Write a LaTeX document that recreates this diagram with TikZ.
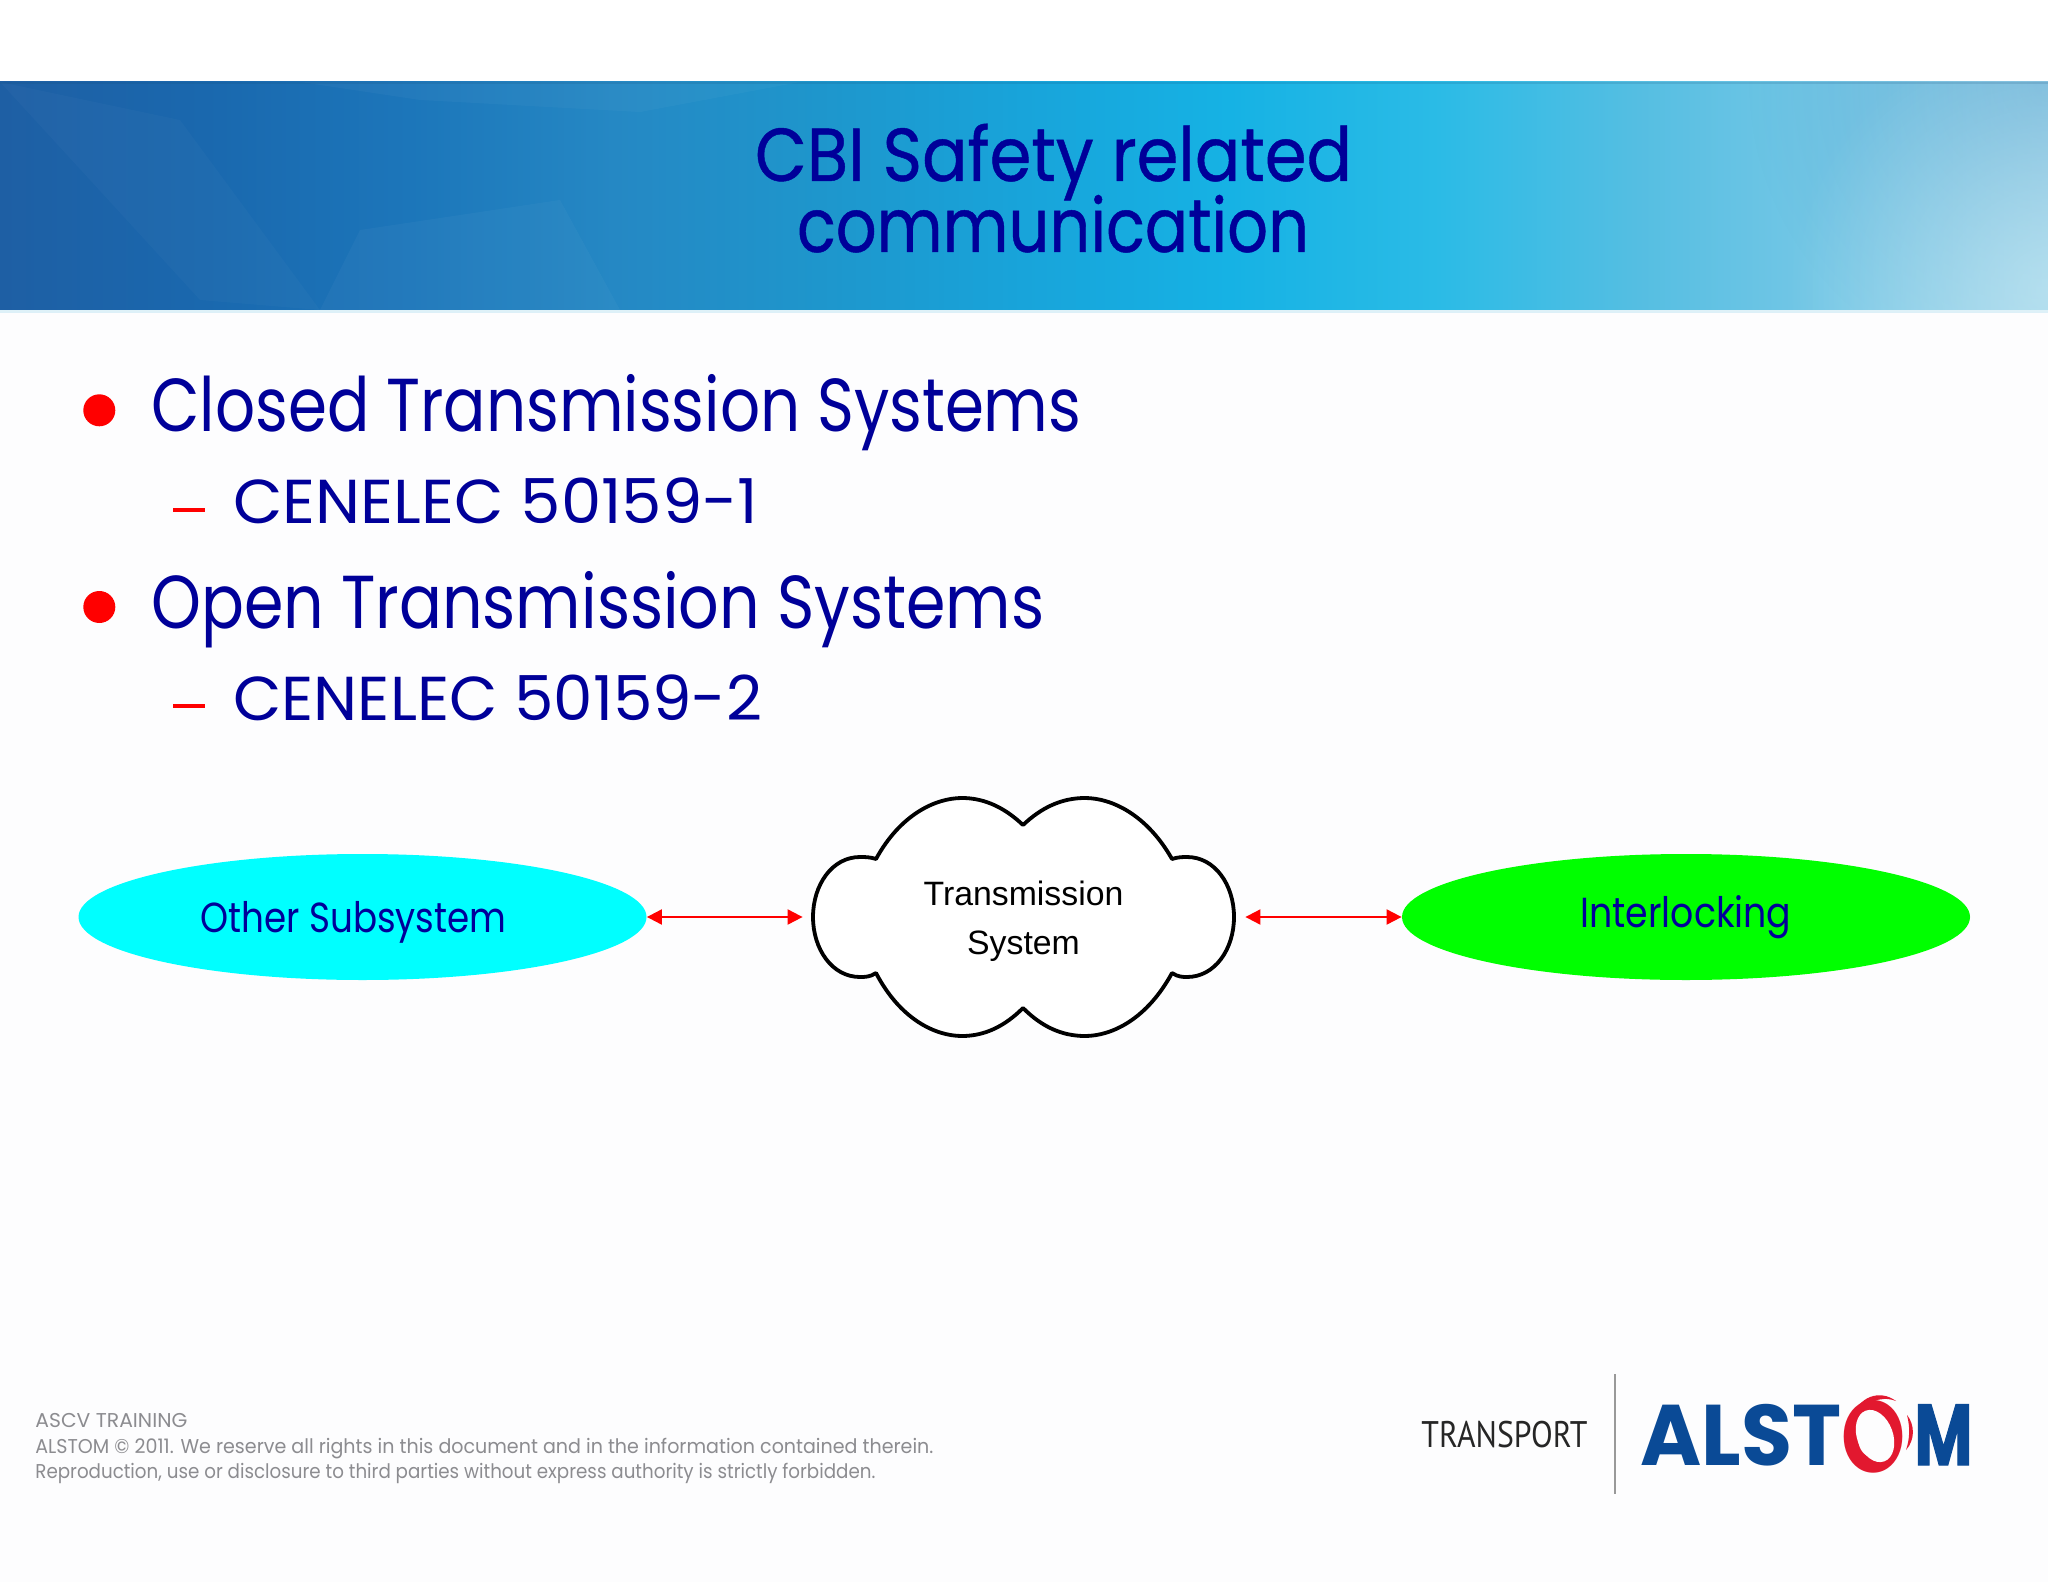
\documentclass[tikz,border=0pt]{standalone}
\usepackage{fontspec}
\usepackage{graphicx}
\usetikzlibrary{shapes.geometric,arrows.meta,fadings}
\setmainfont{Poppins}
\newfontfamily\titlefont[FakeBold=0.6]{Poppins}
\newfontfamily\arialfont{Liberation Sans}
\newfontfamily\transfont{PT Sans}
\newfontfamily\logofont[BoldFont=Poppins Bold]{Poppins}
\newfontfamily\logoheavy[FakeBold=1.6]{Poppins Bold}
\newcommand{\fitw}[2]{\resizebox{#1}{\height}{#2}}
\definecolor{navytext}{HTML}{000099}
\definecolor{greytext}{HTML}{8C8C90}
\definecolor{pagetint}{HTML}{FDFDFE}
\definecolor{logoblue}{HTML}{0A4A96}
\definecolor{logored}{HTML}{E2182F}
\definecolor{purecyan}{HTML}{00FFFF}
\definecolor{puregreen}{HTML}{00FF00}
\definecolor{bA}{HTML}{1E5FA4}
\definecolor{bB}{HTML}{1A68AE}
\definecolor{bC}{HTML}{1C76BA}
\definecolor{bD}{HTML}{2588C4}
\definecolor{bE}{HTML}{1E96CC}
\definecolor{bF}{HTML}{18A4DA}
\definecolor{bG}{HTML}{16B2E4}
\definecolor{bH}{HTML}{2ABBE6}
\definecolor{bI}{HTML}{55BEE2}
\definecolor{bJ}{HTML}{78C8E6}
\definecolor{bK}{HTML}{A4D8EC}
\definecolor{cornertone}{HTML}{3E90C4}
\definecolor{lowglow}{HTML}{C8EAF4}
\pgfdeclarehorizontalshading{headerband}{100bp}{color(0bp)=(bA);color(25bp)=(bA);color(30bp)=(bB);color(35bp)=(bC);color(40bp)=(bD);color(45bp)=(bE);color(50bp)=(bF);color(55bp)=(bG);color(60bp)=(bH);color(65bp)=(bI);color(70bp)=(bJ);color(75bp)=(bK);color(100bp)=(bK)}
\tikzfading[name=cornerglow, inner color=transparent!0, outer color=transparent!100]
\tikzset{
  bodytext/.style={inner sep=0pt,anchor=base west,text=navytext,font=\fontsize{37.5}{40}\selectfont},
  subtext/.style={inner sep=0pt,anchor=base west,text=navytext,font=\fontsize{31}{34}\selectfont},
  titletext/.style={inner sep=0pt,anchor=base,text=navytext,font=\titlefont\fontsize{37.5}{40}\selectfont},
  foottext/.style={inner sep=0pt,anchor=base west,text=greytext,font=\fontsize{10}{12}\selectfont},
  blobtext/.style={inner sep=0pt,anchor=base,text=navytext,font=\fontsize{21}{24}\selectfont},
  subsystem/.style={ellipse,inner sep=0pt,minimum width=284pt,minimum height=63pt,draw=none},
  bulletdot/.style={fill=red},
  dashmark/.style={draw=red,line width=2pt},
  link/.style={draw=red,line width=1pt,{Triangle[length=7.5pt,width=7.5pt]}-{Triangle[length=7.5pt,width=7.5pt]}}
}
\begin{document}
\begin{tikzpicture}[x=0.5pt,y=-0.5pt]
\useasboundingbox (0,0) rectangle (2048,1582);
\fill[white] (0,0) rectangle (2048,1582);
\fill[pagetint] (0,312) rectangle (2048,1582);
% header band
\shade[shading=headerband] (0,82) rectangle (2048,310);
\begin{scope}
\clip (0,82) rectangle (2048,310);
\fill[white,opacity=0.03] (300,82) -- (800,82) -- (640,112) -- (420,100) -- cycle;
\fill[white,opacity=0.025] (0,82) -- (90,180) -- (200,300) -- (320,310) -- (180,120) -- cycle;
\fill[white,opacity=0.03] (360,230) -- (560,200) -- (620,310) -- (320,310) -- cycle;
\fill[cornertone,opacity=0.4,path fading=cornerglow] (2048,82) circle (300);
\fill[lowglow,opacity=0.6,path fading=cornerglow] (2048,290) circle (260);
\end{scope}
\fill[bC!60!black,opacity=0.15] (0,82) rectangle (2048,84);
\fill[bK!60!white,opacity=0.6] (0,310) rectangle (2048,313);
% title
\node[titletext] (t1) at (1053.5,181) {\fitw{298.5pt}{CBI Safety related}};
\node[titletext] (t2) at (1053,252) {\fitw{256pt}{communication}};
% body
\fill[bulletdot] (99.3,410.3) circle (16);
\node[bodytext] (b1) at (151,432) {\fitw{465pt}{Closed Transmission Systems}};
\draw[dashmark] (173.3,510) -- (205,510);
\node[subtext] (s1) at (233,523.5) {\fitw{262.5pt}{CENELEC 50159-1}};
\fill[bulletdot] (99.3,607) circle (16);
\node[bodytext] (b2) at (151,628) {\fitw{446.5pt}{Open Transmission Systems}};
\draw[dashmark] (173.3,706) -- (205,706);
\node[subtext] (s2) at (233,720) {\fitw{264.5pt}{CENELEC 50159-2}};
% diagram
\node[subsystem,fill=purecyan] (other) at (362.5,917) {};
\node[subsystem,fill=puregreen] (inter) at (1686,917) {};
\node[blobtext] (otherlabel) at (353.5,932) {\fitw{153pt}{Other Subsystem}};
\node[blobtext] (interlabel) at (1686,927) {\fitw{105.5pt}{Interlocking}};
\draw[black,line width=1.9pt,fill=white,line join=round]
  (876,859) .. controls (900,815) and (935,798) .. (962,798)
  .. controls (985,798) and (1005,808) .. (1023,825)
  .. controls (1041,808) and (1061,798) .. (1085,798)
  .. controls (1112,798) and (1147,815) .. (1172,859)
  .. controls (1178,857) and (1183,857) .. (1187,857)
  .. controls (1215,857) and (1234,885) .. (1234,917)
  .. controls (1234,949) and (1215,977) .. (1187,977)
  .. controls (1183,977) and (1178,977) .. (1172,973)
  .. controls (1147,1019) and (1112,1036) .. (1085,1036)
  .. controls (1061,1036) and (1041,1026) .. (1023,1008)
  .. controls (1005,1026) and (985,1036) .. (962,1036)
  .. controls (935,1036) and (900,1019) .. (876,973)
  .. controls (870,977) and (865,977) .. (860,977)
  .. controls (832,977) and (813,949) .. (813,917)
  .. controls (813,885) and (832,857) .. (860,857)
  .. controls (865,857) and (870,857) .. (876,859) -- cycle;
\node[inner sep=0pt,minimum width=210.5pt,minimum height=119pt,align=center,text=black,
  font=\arialfont\fontsize{16.9}{24.5}\selectfont] (cloud) at (1023.5,921) {Transmission\\System};
\draw[link,shorten >=5pt] (other.east) -- (cloud.west |- other.east);
\draw[link,shorten <=5.5pt] (cloud.east |- inter.west) -- (inter.west);
% footer
\node[foottext] (f1) at (35,1427) {\fitw{76pt}{ASCV TRAINING}};
\node[foottext] (f2) at (35,1453) {\fitw{449pt}{ALSTOM © 2011. We reserve all rights in this document and in the information contained therein.}};
\node[foottext] (f3) at (35,1478) {\fitw{420pt}{Reproduction, use or disclosure to third parties without express authority is strictly forbidden.}};
% logo
\node[inner sep=0pt,anchor=base west,text=black!85,font=\transfont\fontsize{18.5}{20}\selectfont] (transport) at (1421,1447) {\fitw{83pt}{TRANSPORT}};
\draw[black!40,line width=0.8pt] (1615,1374) -- (1615,1494);
\node[inner sep=0pt,anchor=base west,text=logoblue,font=\logofont\bfseries\fontsize{43}{45}\selectfont] (alst) at (1640,1465) {\fitw{100.5pt}{ALST}};
\node[inner sep=0pt,anchor=base west,text=logoblue,font=\logoheavy\fontsize{43}{45}\selectfont] (m) at (1914,1465) {\fitw{29pt}{M}};
\node[inner sep=0pt,anchor=center,text=logored,font=\logofont\bfseries\fontsize{43}{45}\selectfont] (ring) at (1873,1437) {\resizebox{32pt}{36pt}{O}};
\fill[pagetint,rotate around={20:(1875,1436)}] (1875,1436) ellipse (18 and 27);
\fill[logored] (1851,1420) .. controls (1858,1396) and (1880,1389) .. (1896,1401)
  .. controls (1880,1395) and (1866,1402) .. (1851,1420) -- cycle;
\fill[logored] (1907,1415) .. controls (1915,1425) and (1915,1440) .. (1906,1450)
  .. controls (1910,1438) and (1910,1427) .. (1907,1415) -- cycle;
\end{tikzpicture}
\end{document}
